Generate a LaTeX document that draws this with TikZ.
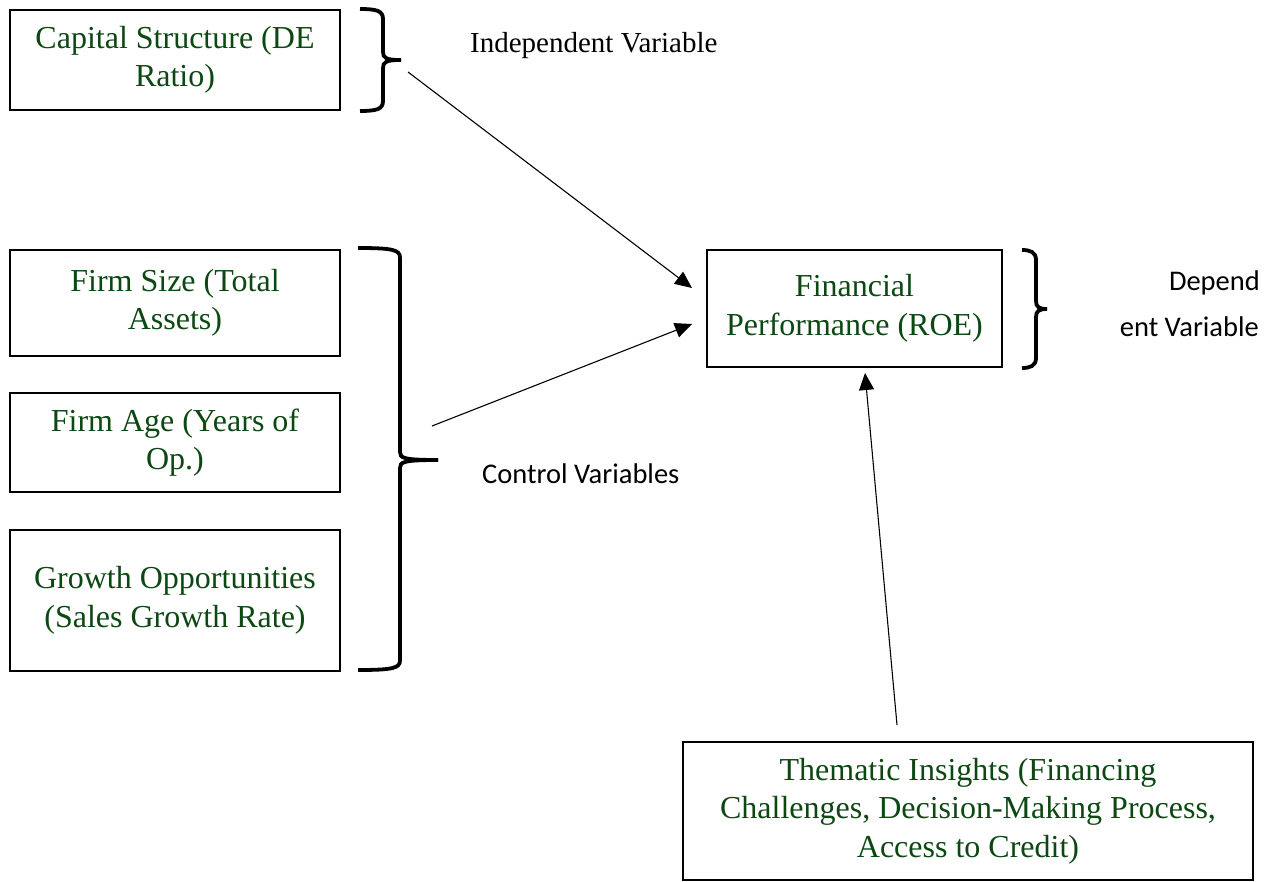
\documentclass[tikz,border=0pt]{standalone}
\usepackage{fontspec}
\setmainfont{Liberation Serif}
\newfontfamily\calibri{Carlito}
\usetikzlibrary{arrows.meta}
\definecolor{boxgreen}{RGB}{12,72,18}
\newcommand{\mybrace}[6]{%
  \draw[bracestyle] (#1,#4) .. controls ({#2-6},#4) and (#2,{#4+2}) .. (#2,{#4+10})
    -- (#2,{#5-8}) .. controls (#2,{#5-2}) and ({#2+3},#5) .. (#3,#5);
  \draw[bracestyle] (#3,#5) .. controls ({#2+3},#5) and (#2,{#5+2}) .. (#2,{#5+8})
    -- (#2,{#6-10}) .. controls (#2,{#6-2}) and ({#2-6},#6) .. (#1,#6);
}
\begin{document}
\begin{tikzpicture}[x=1pt,y=-1pt,
  box/.style={draw=black, line width=2.5pt, rectangle, inner sep=0pt, align=center,
    text=boxgreen, font=\fontsize{32}{38.5}\selectfont},
  bracestyle/.style={draw=black, line width=3.8pt, line cap=butt},
  conn/.style={draw=black, line width=1.1pt, -{Triangle[length=17pt,width=15pt]}},
  sidelabel/.style={inner sep=0pt, font=\calibri\fontsize{28.5}{34}\selectfont},
  serlabel/.style={inner sep=0pt, font=\fontsize{29}{34}\selectfont}]
\useasboundingbox[fill=white] (0,0) rectangle (1273,882);

% boxes
\node[box, minimum width=330pt, minimum height=100pt] (cap) at (175,60) {Capital Structure (DE\\Ratio)};
\node[box, minimum width=330pt, minimum height=106pt] (size) at (175,303) {Firm Size (Total\\Assets)};
\node[box, minimum width=330pt, minimum height=99pt] (age) at (175,442.5) {Firm Age (Years of\\Op.)};
\node[box, minimum width=330pt, minimum height=141pt] (growth) at (175,600.5) {Growth Opportunities\\(Sales Growth Rate)};
\node[box, minimum width=295pt, minimum height=117pt] (fp) at (854.5,308.5) {\raisebox{6pt}{\begin{tabular}{c}Financial\\Performance (ROE)\end{tabular}}};
\node[box, minimum width=570pt, minimum height=138pt] (them) at (968,811) {Thematic Insights (Financing\\Challenges, Decision-Making Process,\\Access to Credit)};

% braces
\mybrace{360}{383}{401}{9}{60}{111}
\mybrace{358}{400}{438}{248}{460}{670}
\mybrace{1022}{1036}{1047}{250}{309}{368}

% labels
\node[serlabel, anchor=west] (indep) at (470,46) {Independent Variable};
\node[sidelabel, anchor=west] (ctrl) at (482,474) {Control Variables};
\node[sidelabel, anchor=east] (dep1) at (1260,283) {Depend};
\node[sidelabel, anchor=east] (dep2) at (1259,327) {ent Variable};

% connector endpoints
\coordinate (capout) at (408,72);
\coordinate (ctrlout) at (432,426);
\coordinate (themout) at (897,725);
\coordinate (fpin1) at (692,288);
\coordinate (fpin2) at (692,324);
\coordinate (fpin3) at (865,373);

\draw[conn] (capout) -- (fpin1);
\draw[conn] (ctrlout) -- (fpin2);
\draw[conn] (themout) -- (fpin3);
\end{tikzpicture}
\end{document}
